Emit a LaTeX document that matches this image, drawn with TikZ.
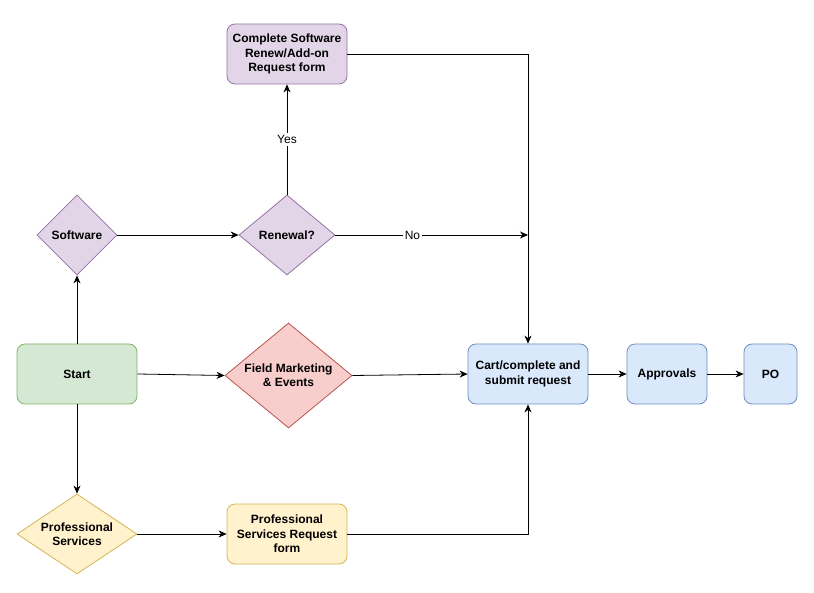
\documentclass[tikz,border=0pt]{standalone}
\usepackage{fontspec}
\setmainfont{Liberation Sans}
\usetikzlibrary{shapes.geometric,arrows.meta}
\definecolor{pfill}{HTML}{E1D5E7}\definecolor{pline}{HTML}{9673A6}
\definecolor{gfill}{HTML}{D5E8D4}\definecolor{gline}{HTML}{82B366}
\definecolor{rfill}{HTML}{F8CECC}\definecolor{rline}{HTML}{B85450}
\definecolor{bfill}{HTML}{DAE8FC}\definecolor{bline}{HTML}{6C8EBF}
\definecolor{yfill}{HTML}{FFF2CC}\definecolor{yline}{HTML}{D6B656}
\tikzset{
  x=1pt,y=-1pt,
  every node/.style={font=\fontsize{12}{14.4}\selectfont\bfseries, align=center},
  box/.style={rectangle, rounded corners=8pt, draw=#1line, fill=#1fill, line width=0.8pt, inner sep=0pt},
  dia/.style={diamond, draw=#1line, fill=#1fill, line width=0.8pt, inner sep=0pt},
  conn/.style={line width=0.8pt, -{Stealth[length=8pt,width=7pt,inset=2.5pt]}},
  plain/.style={line width=0.8pt},
  lbl/.style={fill=white, font=\fontsize{12}{14.4}\selectfont, inner sep=2pt}
}
\begin{document}
\begin{tikzpicture}
\useasboundingbox (0,0) rectangle (814,593);
\node[box=p, minimum width=120, minimum height=60] (csr) at (287,54) {Complete Software\\Renew/Add-on\\Request form};
\node[dia=p, minimum width=80, minimum height=80, label={[align=center]center:Software}] (sw) at (77,235) {};
\node[dia=p, minimum width=96, minimum height=80, label={[align=center]center:Renewal?}] (ren) at (287,235) {};
\node[box=g, minimum width=120, minimum height=60] (start) at (77,374) {Start};
\node[dia=r, minimum width=127, minimum height=105, label={[align=center]center:Field Marketing\\\& Events}] (fm) at (288.5,375.5) {};
\node[box=b, minimum width=120, minimum height=60] (cart) at (528,374) {Cart/complete and\\submit request};
\node[box=b, minimum width=80, minimum height=60] (appr) at (667,374) {Approvals};
\node[box=b, minimum width=53, minimum height=60] (po) at (770.5,374) {PO};
\node[dia=y, minimum width=120, minimum height=80, label={[align=center]center:Professional\\Services}] (ps) at (77,534) {};
\node[box=y, minimum width=120, minimum height=60] (psf) at (287,534) {Professional\\Services Request\\form};
\coordinate (noend) at (528,235);
\coordinate (tr) at (528,54);
\coordinate (br) at (528,534);

\draw[conn] (start.north) -- (sw.south);
\draw[conn] (sw.east) -- (ren.west);
\draw[conn] (ren.north) -- node[lbl, pos=0.5] (yes) {Yes} (csr.south);
\draw[conn] (ren.east) -- node[lbl, pos=0.4] (no) {No} (noend);
\draw[conn] (csr.east) -- (tr) -- (cart.north);
\draw[conn] (start.east) -- (fm.west);
\draw[conn] (fm.east) -- (cart.west);
\draw[conn] (cart.east) -- (appr.west);
\draw[conn] (appr.east) -- (po.west);
\draw[conn] (start.south) -- (ps.north);
\draw[conn] (ps.east) -- (psf.west);
\draw[conn] (psf.east) -- (br) -- (cart.south);
\end{tikzpicture}
\end{document}
